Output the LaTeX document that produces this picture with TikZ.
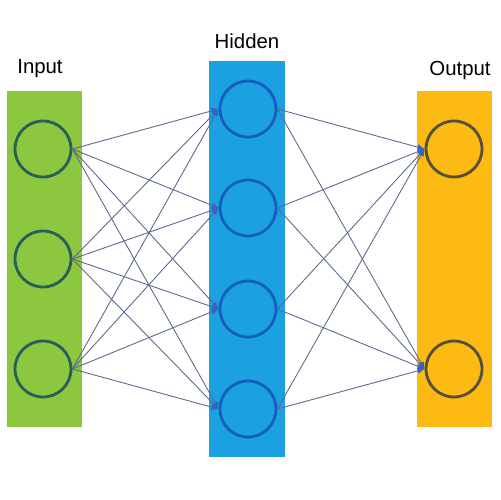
\documentclass[tikz,border=0pt]{standalone}
\usepackage{fontspec}
\setmainfont{Liberation Sans}
\usetikzlibrary{arrows.meta}
\definecolor{ingreen}{RGB}{141,198,63}
\definecolor{hidblue}{RGB}{27,161,226}
\definecolor{outorange}{RGB}{252,186,18}
\definecolor{inring}{RGB}{40,95,90}
\definecolor{hidring}{RGB}{20,95,190}
\definecolor{outring}{RGB}{85,80,60}
\definecolor{edgecol}{RGB}{90,105,140}
\definecolor{tipcol}{RGB}{55,100,190}
\tikzset{
  neuron/.style={circle, minimum size=1.12cm, inner sep=0pt, line width=1.6pt},
  conn/.style={draw=edgecol, line width=0.5pt, -{Latex[length=4pt,width=3.5pt,color=tipcol]}},
  lbl/.style={font=\fontsize{11.6}{13}\selectfont, text=black}
}
\begin{document}
\begin{tikzpicture}[x=0.02cm,y=-0.02cm]
\useasboundingbox (0,0) rectangle (500,500);
% layer boxes
\fill[ingreen] (7,91) rectangle (82,427);
\fill[hidblue] (209,61) rectangle (285,457);
\fill[outorange] (417,91) rectangle (492,427);
% labels
\node[lbl] (tin) at (40,69) {Input};
\node[lbl] (thid) at (247,41) {Hidden};
\node[lbl] (tout) at (460,71) {Output};
% neurons
\node[neuron, draw=inring] (i1) at (43,149) {};
\node[neuron, draw=inring] (i2) at (43,259) {};
\node[neuron, draw=inring] (i3) at (43,369) {};
\node[neuron, draw=hidring] (h1) at (248,109) {};
\node[neuron, draw=hidring] (h2) at (248,208) {};
\node[neuron, draw=hidring] (h3) at (248,309) {};
\node[neuron, draw=hidring] (h4) at (248,409) {};
\node[neuron, draw=outring] (o1) at (454,149) {};
\node[neuron, draw=outring] (o2) at (454,369) {};
% connections
\foreach \a in {i1,i2,i3}{
  \foreach \b in {h1,h2,h3,h4}{
    \draw[conn] (\a.east) -- (\b.west);
  }
}
\foreach \a in {h1,h2,h3,h4}{
  \foreach \b in {o1,o2}{
    \draw[conn] (\a.east) -- (\b.west);
  }
}
\end{tikzpicture}
\end{document}
